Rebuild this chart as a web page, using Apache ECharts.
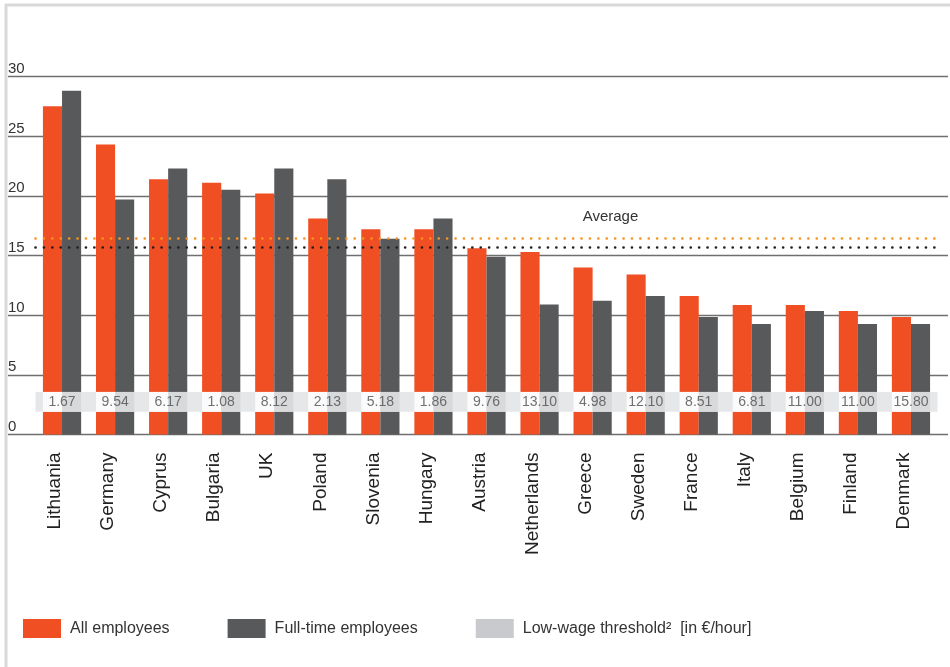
<!DOCTYPE html>
<html>
<head>
<meta charset="utf-8">
<script src="https://cdn.jsdelivr.net/npm/echarts@6/dist/echarts.min.js"></script>
<style>
  html, body { margin: 0; padding: 0; background: #fff; }
  #chart { width: 950px; height: 667px; }
</style>
</head>
<body>
<div id="chart"></div>
<script>
const categories = ['Lithuania', 'Germany', 'Cyprus', 'Bulgaria', 'UK', 'Poland', 'Slovenia', 'Hungary',
  'Austria', 'Netherlands', 'Greece', 'Sweden', 'France', 'Italy', 'Belgium', 'Finland', 'Denmark']
const allEmployees = [27.5, 24.3, 21.4, 21.1, 20.2, 18.1, 17.2, 17.2, 15.6, 15.3, 14.0, 13.4, 11.6, 10.85, 10.85, 10.35, 9.85]
const fullTime = [28.8, 19.7, 22.3, 20.5, 22.3, 21.4, 16.4, 18.1, 14.9, 10.9, 11.2, 11.6, 9.85, 9.25, 10.35, 9.25, 9.25]
const lowWageThreshold = [1.67, 9.54, 6.17, 1.08, 8.12, 2.13, 5.18, 1.86, 9.76, 13.10, 4.98, 12.10, 8.51, 6.81, 11.00, 11.00, 15.80]
const averageAll = 16.45
const averageFullTime = 15.65
const yMin = 0, yMax = 30, yStep = 5

const seriesNames = ['All employees', 'Full-time employees', 'Low-wage threshold\u00b2  [in \u20ac/hour]']

// band holding the threshold numbers (value units)
const bandLo = 1.9, bandHi = 3.57
const bandMid = (bandLo + bandHi) / 2

const font = '"Liberation Sans", Arial, sans-serif'
const ORANGE = '#f04e23'
const GREY = '#58595b'

const gridTop = 76.5, gridBottom = 667 - 434.5
const barGeom = { barCategoryGap: '28%', barGap: 0 }

let chart = echarts.init(document.getElementById('chart'))

const overlay = (stack, color) => ([
  Object.assign({
    type: 'bar', xAxisIndex: 2, yAxisIndex: 1, stack: stack, z: 4, silent: true,
    itemStyle: { color: 'transparent' },
    data: categories.map(() => bandLo)
  }, barGeom),
  Object.assign({
    type: 'bar', xAxisIndex: 2, yAxisIndex: 1, stack: stack, z: 4, silent: true,
    itemStyle: { color: color },
    data: categories.map(() => bandHi - bandLo)
  }, barGeom)
])

chart.setOption({
  animation: false,
  tooltip: { show: false },
  graphic: [
    { type: 'line', shape: { x1: 5, y1: 5, x2: 950, y2: 5 }, style: { stroke: '#d9d9d9', lineWidth: 3 } },
    { type: 'line', shape: { x1: 6, y1: 4, x2: 6, y2: 667 }, style: { stroke: '#d9d9d9', lineWidth: 3 } }
  ],
  legend: {
    data: seriesNames,
    left: 23, top: 619, padding: 0,
    icon: 'rect', itemWidth: 38, itemHeight: 19, itemGap: 58,
    textStyle: { fontFamily: font, fontSize: 16, color: '#333', padding: [0, 0, 0, 4] }
  },
  grid: [
    { left: 8, right: 2, top: gridTop, bottom: gridBottom },
    { left: 35.5, right: 12.5, top: gridTop, bottom: gridBottom },
    // labels sit a little left of the bar pairs
    { left: 28.5, right: 19.5, top: gridTop, bottom: gridBottom }
  ],
  xAxis: [
    { type: 'value', gridIndex: 0, show: false, min: 0, max: 1 },
    { type: 'category', gridIndex: 1, data: categories, show: false },
    { type: 'category', gridIndex: 1, data: categories, show: false },
    {
      type: 'category', gridIndex: 2, data: categories,
      axisLine: { show: false }, axisTick: { show: false },
      axisLabel: { rotate: 90, margin: 18, fontFamily: font, fontSize: 19, color: '#222' }
    }
  ],
  yAxis: [
    {
      type: 'value', gridIndex: 0, min: yMin, max: yMax, interval: yStep,
      axisLine: { show: false }, axisTick: { show: false },
      axisLabel: {
        inside: true, margin: 0, verticalAlign: 'bottom', align: 'left',
        fontFamily: font, fontSize: 15, color: '#333'
      },
      splitLine: { lineStyle: { color: '#6f6f6f', width: 1.4 } }
    },
    { type: 'value', gridIndex: 1, min: yMin, max: yMax, show: false },
    { type: 'value', gridIndex: 2, min: yMin, max: yMax, show: false }
  ],
  series: [
    Object.assign({
      name: seriesNames[0], type: 'bar', xAxisIndex: 1, yAxisIndex: 1, z: 2,
      itemStyle: { color: ORANGE }, data: allEmployees
    }, barGeom),
    Object.assign({
      name: seriesNames[1], type: 'bar', xAxisIndex: 1, yAxisIndex: 1, z: 2,
      itemStyle: { color: GREY }, data: fullTime
    }, barGeom),
    ...overlay('o', '#fbfbfb'),
    ...overlay('g', '#d8d9da'),
    {
      name: seriesNames[2], type: 'scatter', xAxisIndex: 1, yAxisIndex: 1, z: 6,
      symbolSize: 0, silent: true,
      itemStyle: { color: '#bcbdc0' },
      label: {
        show: true, position: 'inside', fontFamily: font, fontSize: 14, color: '#4d4d4f',
        formatter: p => p.value[2].toFixed(2)
      },
      data: lowWageThreshold.map((t, i) => [i, bandMid, t]),
      markArea: {
        silent: true, z: 3,
        itemStyle: { color: '#e6e7e8' },
        data: [[{ yAxis: bandLo }, { yAxis: bandHi }]]
      },
      markLine: {
        silent: true, symbol: 'none', z: 5,
        data: [
          {
            yAxis: averageAll,
            lineStyle: { color: '#f7941d', type: [0.1, 8.3], width: 2.6, cap: 'round' },
            label: {
              show: true, position: 'insideMiddleTop', formatter: 'Average', distance: 14,
              padding: [0, 0, 0, 248], fontFamily: font, fontSize: 15, color: '#333'
            }
          },
          {
            yAxis: averageFullTime,
            lineStyle: { color: '#231f20', type: [0.1, 8.3], width: 2.6, cap: 'round' },
            label: { show: false }
          }
        ]
      }
    }
  ]
})
</script>
</body>
</html>
